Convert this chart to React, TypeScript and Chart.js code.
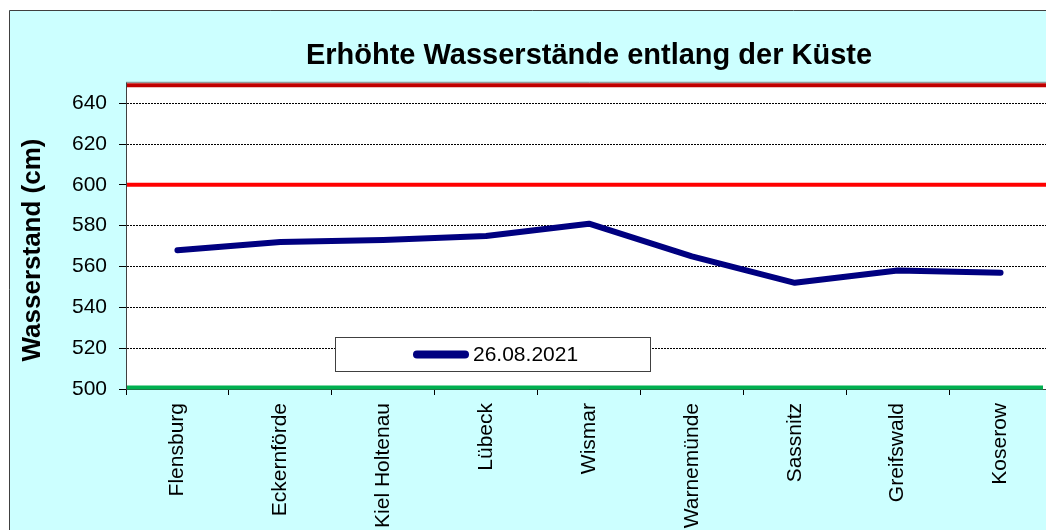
import React, { useEffect, useRef } from "react";
import { Chart, registerables } from "chart.js";

Chart.register(...registerables);

// ---- data ----
const stations = [
  "Flensburg",
  "Eckernförde",
  "Kiel Holtenau",
  "Lübeck",
  "Wismar",
  "Warnemünde",
  "Sassnitz",
  "Greifswald",
  "Koserow",
];
const waterLevels = [568, 572, 573, 575, 581, 565, 552, 558, 557];
const seriesLabel = "26.08.2021";
const chartTitle = "Erhöhte Wasserstände entlang der Küste";
const yAxisTitle = "Wasserstand (cm)";
const yMin = 500;
const yMax = 650;
const yTickValues = [500, 520, 540, 560, 580, 600, 620, 640];
const thresholdValues = [650, 600, 500];
const thresholdColors = ["#C00000", "#FF0000", "#00B050"];

const FONT = "'Liberation Sans', Arial, sans-serif";
const CANVAS_W = 1046;
const CANVAS_H = 560;

const backgroundPlugin = {
  id: "bgPlugin",
  beforeDraw(chart: any) {
    const { ctx, chartArea } = chart;
    ctx.save();
    ctx.fillStyle = "#CCFFFF";
    ctx.fillRect(1, 2, chart.width, chart.height);
    ctx.strokeStyle = "#404040";
    ctx.lineWidth = 1;
    ctx.beginPath();
    ctx.moveTo(1.5, chart.height);
    ctx.lineTo(1.5, 2.5);
    ctx.lineTo(chart.width + 5, 2.5);
    ctx.stroke();
    ctx.fillStyle = "#FFFFFF";
    ctx.fillRect(
      chartArea.left,
      chartArea.top,
      chartArea.right - chartArea.left,
      chartArea.bottom - chartArea.top
    );
    ctx.restore();
  },
};

const yTitlePlugin = {
  id: "yTitle",
  afterDraw(chart: any) {
    const { ctx } = chart;
    ctx.save();
    ctx.translate(24.5, 242);
    ctx.rotate(-Math.PI / 2);
    ctx.fillStyle = "#000000";
    ctx.font = `bold 26px ${FONT}`;
    ctx.textAlign = "center";
    ctx.textBaseline = "middle";
    ctx.fillText(yAxisTitle, 0, 0);
    ctx.restore();
  },
};

const thresholdPlugin = {
  id: "thresholdPlugin",
  beforeDatasetsDraw(chart: any) {
    const { ctx, chartArea } = chart;
    const y = chart.scales.y;
    ctx.save();
    ctx.strokeStyle = "#808080";
    ctx.lineWidth = 1;
    ctx.beginPath();
    ctx.moveTo(chartArea.left, chartArea.top - 0.5);
    ctx.lineTo(chartArea.right + 0.5, chartArea.top - 0.5);
    ctx.lineTo(chartArea.right + 0.5, chartArea.bottom);
    ctx.stroke();
    thresholdValues.forEach((v, i) => {
      const w = 4;
      let py = y.getPixelForValue(v);
      py = Math.max(py, chartArea.top + w / 2 + 0.5);
      py = Math.min(py, chartArea.bottom - w / 2 + 0.5);
      const endX = i === 2 ? chartArea.right - 9 : chartArea.right;
      ctx.strokeStyle = thresholdColors[i];
      ctx.lineWidth = w;
      ctx.beginPath();
      ctx.moveTo(chartArea.left + 1, py);
      ctx.lineTo(endX, py);
      ctx.stroke();
    });
    ctx.restore();
  },
};

const legendPlugin = {
  id: "boxLegend",
  afterDraw(chart: any) {
    const { ctx } = chart;
    const ds = chart.data.datasets[0];
    ctx.save();
    const bx = 327.5,
      by = 329.5,
      bw = 315,
      bh = 34;
    ctx.fillStyle = "#FFFFFF";
    ctx.fillRect(bx, by, bw, bh);
    ctx.strokeStyle = "#404040";
    ctx.lineWidth = 1;
    ctx.strokeRect(bx, by, bw, bh);
    const cy = by + bh / 2;
    ctx.strokeStyle = ds.borderColor;
    ctx.lineWidth = 8;
    ctx.lineCap = "round";
    ctx.beginPath();
    ctx.moveTo(409, cy);
    ctx.lineTo(457, cy);
    ctx.stroke();
    ctx.fillStyle = "#000000";
    ctx.font = `21px ${FONT}`;
    ctx.textBaseline = "middle";
    ctx.textAlign = "left";
    ctx.fillText(ds.label, 465, cy + 1);
    ctx.restore();
  },
};

export default function App() {
  const canvasRef = useRef<HTMLCanvasElement | null>(null);

  useEffect(() => {
    document.documentElement.style.overflow = "hidden";
    const canvas = canvasRef.current;
    if (!canvas) return;
    const chart = new Chart(canvas, {
      type: "line",
      data: {
        labels: stations,
        datasets: [
          {
            label: seriesLabel,
            data: waterLevels,
            borderColor: "#000080",
            backgroundColor: "#000080",
            borderWidth: 6,
            pointRadius: 0,
            tension: 0,
            fill: false,
            borderCapStyle: "round",
            borderJoinStyle: "round",
          },
        ],
      },
      options: {
        responsive: false,
        animation: false,
        devicePixelRatio: 1,
        layout: { padding: { left: 0, right: 2, top: 0, bottom: 0 } },
        plugins: {
          legend: { display: false },
          tooltip: { enabled: false },
          title: {
            display: true,
            text: chartTitle,
            fullSize: false,
            color: "#000000",
            font: { family: FONT, size: 29, weight: "bold" },
            padding: { top: 31, bottom: 9 },
          },
        },
        scales: {
          x: {
            type: "category",
            offset: true,
            grid: {
              display: true,
              drawOnChartArea: false,
              offset: true,
              color: "#000000",
              tickLength: 6,
            },
            border: { display: true, color: "#404040", width: 1 },
            ticks: {
              color: "#000000",
              font: { family: FONT, size: 21 },
              minRotation: 90,
              maxRotation: 90,
              autoSkip: false,
              padding: 8,
            },
            afterFit(scale: any) {
              scale.height = CANVAS_H - 381;
            },
          },
          y: {
            type: "linear",
            min: yMin,
            max: yMax,
            ticks: {
              color: "#000000",
              font: { family: FONT, size: 21 },
              padding: 12,
            },
            afterBuildTicks(scale: any) {
              scale.ticks = yTickValues.map((v) => ({ value: v }));
            },
            grid: {
              color: "#000000",
              lineWidth: 1,
              tickLength: 7,
              tickBorderDash: [],
            },
            border: { display: true, color: "#404040", width: 1, dash: [2, 1] },
            title: { display: false },
            afterFit(scale: any) {
              scale.width = 118;
            },
          },
        },
      },
      plugins: [backgroundPlugin, thresholdPlugin, legendPlugin, yTitlePlugin],
    } as any);
    return () => chart.destroy();
  }, []);

  return (
    <div style={{ width: CANVAS_W, height: 522, overflow: "hidden" }}>
      <canvas
        ref={canvasRef}
        width={CANVAS_W}
        height={CANVAS_H}
        style={{ display: "block", width: CANVAS_W, height: CANVAS_H }}
      />
    </div>
  );
}
